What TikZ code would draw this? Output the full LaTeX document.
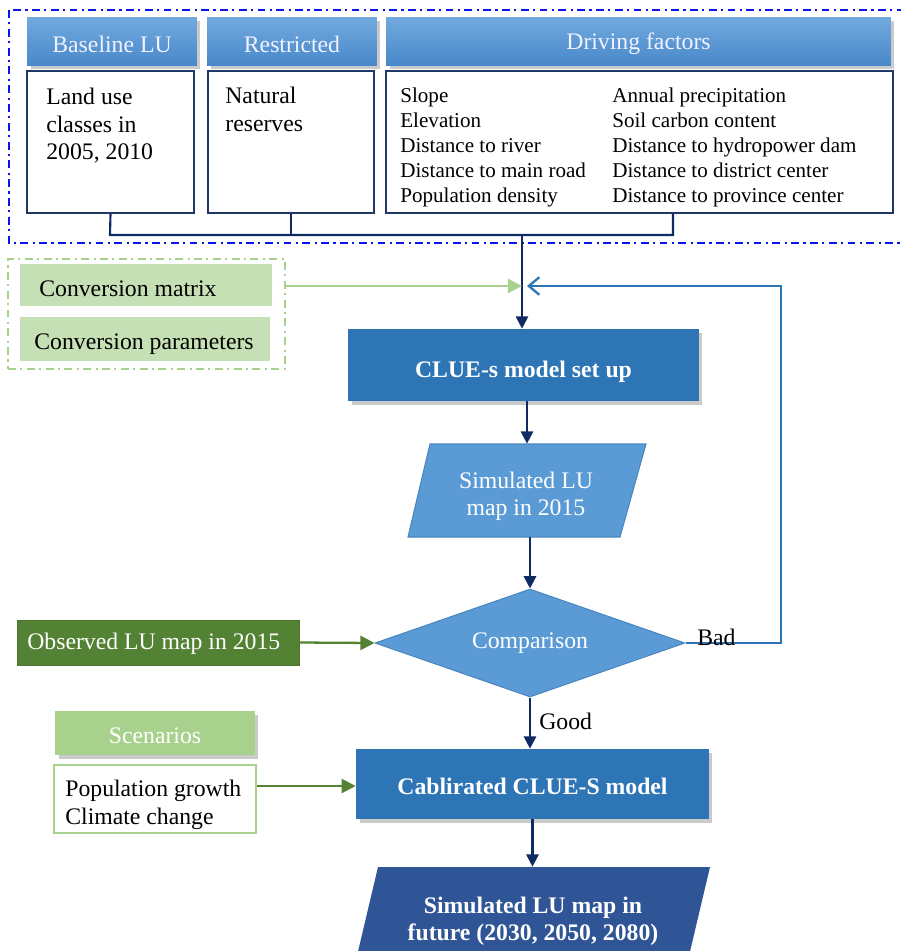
\documentclass[tikz,border=0pt]{standalone}
\usepackage{fontspec}
\setmainfont{Liberation Serif}
\usetikzlibrary{shapes.geometric,arrows.meta,shadows,calc}
\definecolor{navy}{HTML}{102A63}
\definecolor{boxnavy}{HTML}{1F3864}
\definecolor{hdtop}{HTML}{72AADE}
\definecolor{hdbot}{HTML}{4888CA}
\definecolor{midblue}{HTML}{2E75B6}
\definecolor{lightblue}{HTML}{5B9BD5}
\definecolor{edgeblue}{HTML}{4A86C0}
\definecolor{darkblue}{HTML}{2F5597}
\definecolor{lgreen}{HTML}{C5E0B4}
\definecolor{mgreen}{HTML}{A9D18E}
\definecolor{dgreen}{HTML}{548235}
\definecolor{outerblue}{HTML}{0A14F0}
\newcommand{\fsA}{\fontsize{13.5}{15.6}\selectfont}
\newcommand{\fsB}{\fontsize{12}{14.2}\selectfont}
\newcommand{\dn}[2]{\raisebox{-#1}[\height][\depth]{#2}}
\tikzset{
  shadowed/.style={drop shadow={shadow xshift=2pt,shadow yshift=-2pt,opacity=0.35,fill=black!60}},
  hdr/.style={top color=hdtop,bottom color=hdbot,shadowed,text=white!95!blue,font=\fsA,inner sep=0pt,minimum height=0.96cm},
  cbox/.style={draw=boxnavy,line width=1.1pt,fill=white,inner sep=0pt},
  txt/.style={inner sep=0pt,align=left,font=\fsA,anchor=north west},
  dashdot/.style={dash pattern=on 4.5pt off 2.5pt on 1.2pt off 2.5pt,line width=1.1pt},
  navyline/.style={draw=navy,line width=1.2pt},
  navyarrow/.style={navyline,-{Triangle[length=7pt,width=7pt]}},
  bigbox/.style={fill=midblue,shadowed,text=white,font=\fsA\bfseries,inner sep=0pt},
  glbl/.style={inner sep=0pt,font=\fsA}
}
\begin{document}
\begin{tikzpicture}[x=0.02cm,y=-0.02cm]
\useasboundingbox (0,0) rectangle (901,951);
\clip (0,0) rectangle (901,951);
% outer dash-dot frame
\draw[dashdot,outerblue] (9,10) rectangle (910,243);
% headers
\node[hdr,minimum width=3.4cm] (hbase) at (112,41) {\dn{1.7pt}{Baseline LU}};
\node[hdr,minimum width=3.4cm] (hres) at (292,41) {\dn{1.7pt}{Restricted}};
\node[hdr,minimum width=10.1cm] (hdrv) at (638.5,41) {\dn{1.7pt}{Driving factors}};
% content boxes
\node[cbox,minimum width=3.34cm,minimum height=2.84cm] (cbase) at (110.5,142) {};
\node[cbox,minimum width=3.32cm,minimum height=2.84cm] (cres) at (291,142) {};
\node[cbox,minimum width=10.14cm,minimum height=2.84cm] (cdrv) at (639.5,142) {};
\node[txt] (tbase) at (46,88) {Land use\\classes in\\2005, 2010};
\node[txt] (tres) at (225,87) {Natural\\reserves};
\node[txt,font=\fsB] (tdrv1) at (400,88) {Slope\\Elevation\\Distance to river\\Distance to main road\\Population density};
\node[txt,font=\fsB] (tdrv2) at (612,88) {Annual precipitation\\Soil carbon content\\Distance to hydropower dam\\Distance to district center\\Distance to province center};
% bracket
\coordinate (j) at (522,235);
\coordinate (jl) at (110,235);
\coordinate (jr) at (673,235);
\draw[navyline] (cbase.south) -- (jl) -- (jr) -- (jr |- cdrv.south);
\draw[navyline] (cres.south) -- (cres.south |- j);
% conversion group
\node[draw=mgreen,dashdot,minimum width=5.54cm,minimum height=2.2cm,inner sep=0pt] (conv) at (146.5,314) {};
\node[fill=lgreen,minimum width=5.04cm,minimum height=0.84cm,inner sep=0pt] (cmat) at (146,285) {};
\node[glbl,anchor=west] (tcmat) at (39,289) {Conversion matrix};
\node[fill=lgreen,minimum width=5.0cm,minimum height=0.88cm,inner sep=0pt] (cpar) at (145,339) {};
\node[glbl,anchor=west] (tcpar) at (34,344) {Conversion parameters};
% CLUE-s model set up
\node[bigbox,minimum width=7.02cm,minimum height=1.44cm] (clue) at (523.5,365) {\dn{3.8pt}{CLUE-s model set up}};
\coordinate (meet) at (522,286);
\draw[navyarrow] (j) -- (j |- clue.north);
\draw[draw=mgreen,line width=1.3pt,-{Triangle[length=8pt,width=8pt]}] (conv.east |- meet) -- (meet);
% simulated LU map 2015 (parallelogram)
\node[minimum width=4.76cm,minimum height=1.86cm,inner sep=0pt] (sim) at (527,490.5) {};
\fill[lightblue,draw=edgeblue,line width=0.6pt] (430,444) -- (646,444) -- (620,537) -- (408,537) -- cycle;
\node[glbl,text=white,align=center,font=\fontsize{13.5}{15.3}\selectfont] (tsim) at (526,496) {Simulated LU\\map in 2015};
\draw[navyarrow] (clue.south -| sim.north) -- (sim.north);
% comparison diamond
\node[diamond,aspect=2.87,fill=lightblue,draw=edgeblue,line width=0.6pt,minimum width=6.2cm,minimum height=2.16cm,inner sep=0pt,text=white,font=\fsA] (cmp) at (530,643) {Comparison};
\draw[navyarrow] (sim.south -| cmp.north) -- (cmp.north);
% observed
\node[fill=dgreen,draw=dgreen!90!black,minimum width=5.64cm,minimum height=0.9cm,inner sep=0pt] (obs) at (158,642.5) {};
\node[glbl,text=white,anchor=west] (tobs) at (27,644) {Observed LU map in 2015};
\draw[draw=dgreen,line width=1.3pt,-{Triangle[length=8pt,width=8pt]}] (obs.east) -- (cmp.west);
% feedback
\coordinate (fb1) at (781,643);
\coordinate (fb2) at (781,286);
\draw[draw=midblue,line width=1pt,-{Straight Barb[length=6pt,width=10pt,line width=1.3pt]}] (cmp.east) -- (fb1) -- (fb2) -- ($(meet)+(5,0)$);
\node[glbl,anchor=south west] (bad) at (697,646) {Bad};
% calibrated
\node[bigbox,minimum width=7.06cm,minimum height=1.4cm] (cal) at (532.5,784) {\dn{1.2pt}{Cablirated CLUE-S model}};
\draw[navyarrow] (cmp.south) -- (cmp.south |- cal.north);
\node[glbl,anchor=west] (good) at (539,721) {Good};
% scenarios
\node[fill=mgreen,shadowed,minimum width=4.0cm,minimum height=0.88cm,inner sep=0pt,text=white,font=\fsA] (scen) at (155,733) {\dn{1.7pt}{Scenarios}};
\node[draw=mgreen,line width=1.1pt,fill=white,minimum width=4.04cm,minimum height=1.36cm,inner sep=0pt] (scbox) at (155,799) {};
\node[txt] (tscen) at (65,780) {Population growth\\Climate change};
\draw[draw=dgreen,line width=1.3pt,-{Triangle[length=8pt,width=8pt]}] (scbox.east |- 0,786) -- (cal.west |- 0,786);
% future map
\node[minimum width=6.66cm,minimum height=2.0cm,inner sep=0pt] (fut) at (533,917) {};
\fill[darkblue] (378,867) -- (710,867) -- (688,960) -- (356,960) -- cycle;
\node[glbl,text=white,align=center,font=\fsA\bfseries] (tfut) at (533,921) {Simulated LU map in\\future (2030, 2050, 2080)};
\draw[navyarrow] (cal.south) -- (cal.south |- fut.north);
\end{tikzpicture}
\end{document}
